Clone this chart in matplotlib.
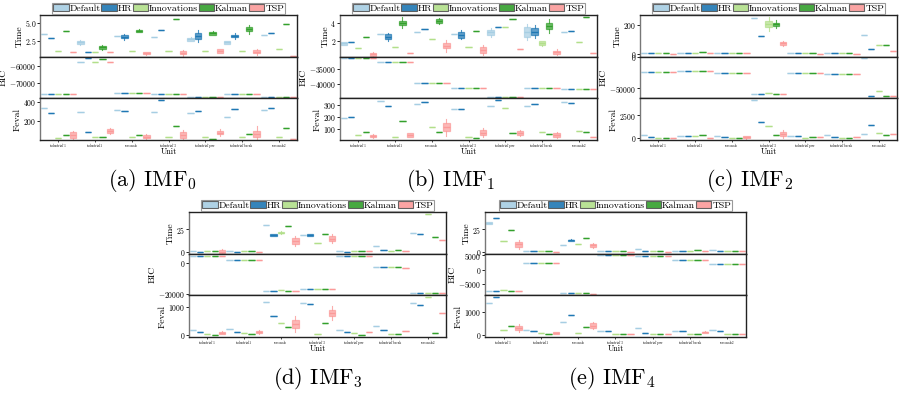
import matplotlib
matplotlib.use("Agg")
import matplotlib.pyplot as plt
from matplotlib.patches import Patch

plt.rcParams['font.family'] = ['cmr10', 'DejaVu Serif']
plt.rcParams['mathtext.fontset'] = 'cm'
plt.rcParams['axes.unicode_minus'] = False

# ---------------- data ----------------
methods = ["Default", "HR", "Innovations", "Kalman", "TSP"]
units = ["industrial_1", "industrial1", "seasonals", "industrial_3",
         "industrial_pwr", "industrial_break", "seasonals2"]
colors = ["#a6cee3", "#1f78b4", "#b2df8a", "#33a02c", "#fb9a99"]
captions = [r"(a) IMF$_0$", r"(b) IMF$_1$", r"(c) IMF$_2$", r"(d) IMF$_3$", r"(e) IMF$_4$"]

# medians: rows = units, cols = methods
time0 = [[3.38, 2.92, 1.11, 3.84, 0.88], [2.27, 0.88, 0.97, 1.57, 0.88],
         [3.15, 3.06, 1.06, 3.89, 0.74], [3.06, 3.98, 1.11, 5.56, 0.83],
         [2.69, 3.15, 1.06, 3.52, 1.06], [2.27, 3.15, 1.11, 4.07, 0.97],
         [3.24, 3.52, 1.30, 4.77, 0.42]]
bic0 = [[-76350] * 5, [-57900, -55600, -57900, -55800, -57900],
        [-75800, -75800, -75800, -75800, -75400], [-76000] * 5,
        [-77700] * 5, [-76350] * 5, [-77700] * 5]
feval0 = [[337, 286, 36, 60, 60], [299, 94, 43, 43, 104], [316, 309, 43, 60, 43],
          [299, 413, 43, 156, 60], [286, 309, 43, 19, 87], [248, 326, 43, 70, 70],
          [320, 337, 43, 138, 19]]

time1 = [[1.70, 1.89, 1.15, 2.44, 0.48], [2.74, 2.44, 1.33, 4.00, 0.67],
         [2.93, 3.33, 2.19, 4.19, 1.44], [2.70, 2.63, 1.33, 3.07, 0.96],
         [2.93, 3.48, 3.48, 4.37, 1.04], [2.93, 3.00, 1.70, 3.63, 0.70],
         [3.00, 3.11, 1.89, 4.59, 0.59]]
bic1 = [[-31444] * 5, [-32556] * 5, [-39778] * 5, [-41444] * 5,
        [-44222] * 5, [-41444] * 5, [-41778] * 5]
feval1 = [[186, 195, 49, 71, 41], [329, 290, 30, 167, 49], [301, 318, 112, 71, 112],
          [260, 260, 30, 22, 68], [290, 337, 268, 63, 68], [290, 301, 77, 55, 49],
          [323, 315, 85, 77, 30]]

time2 = [[10, 6, 8, 8, 4], [10, 8, 12, 14, 6], [10, 6, 6, 6, 8],
         [250, 125, 207, 205, 75], [8, 8, 6, 6, 4], [8, 6, 6, 6, 4],
         [132, 36, 64, 64, 23]]
bic2 = [[-24200] * 5, [-21500] * 5, [-25800] * 5,
        [-59700, -59700, -58000, -59700, -59700], [-25800] * 5, [-27400] * 5,
        [-1600, -62400, -54300, -62400, -62400]]
feval2 = [[357, 179, 30, 30, 50], [250, 250, 250, 357, 71], [250, 179, 20, 20, 107],
          [4107, 1714, 1321, 357, 464], [250, 250, 20, 107, 107],
          [357, 179, 20, 20, 107], [429, 1429, 607, 357, 429]]

time3 = [[1.1, 0.4, 1.1, 1.1, 0.5], [1.1, 0.4, 1.1, 1.8, 0.4],
         [29.4, 18.75, 21.3, 28.7, 12.1], [18.75, 18.75, 10.3, 19.5, 14.7],
         [1.8, 0.4, 1.1, 1.8, 1.1], [6.25, 2.9, 1.1, 2.9, 1.8],
         [20.6, 19.5, 41.5, 16.5, 13.2]]
bic3 = [[4300] * 5, [1935] * 5, [-17850, -17850, -17400, -17850, -18200],
        [-16770] * 5, [4086] * 5, [-2796, -2796, -2796, -2796, -3200],
        [-19355] * 5]
feval3 = [[163, 105, 47, 12, 81], [221, 105, 70, 47, 105], [1186, 686, 430, 267, 395],
          [1151, 1093, 47, 430, 779], [186, 105, 70, 12, 105], [326, 163, 47, 47, 140],
          [1140, 1058, 1360, 81, 779]]

time4 = [[31.7, 37.3, 11.6, 23.9, 8.2], [1.0, 0.5, 0.5, 0.5, 0.2],
         [7.5, 12.7, 8.2, 14.9, 7.1], [0.75, 0.75, 0.75, 0.75, 0.2],
         [3.4, 0.75, 1.5, 1.5, 0.2], [0.75, 0.75, 0.75, 1.9, 0.75],
         [1.9, 0.75, 0.75, 0.75, 0.75]]
bic4 = [[-7412, -7412, -7176, -7412, -7412], [2353] * 5,
        [-8235, -8235, -8235, -8235, -8450], [4941] * 5, [4588] * 5,
        [3412, 3412, 3412, 3412, 3200], [2000] * 5]
feval4 = [[1412, 1691, 191, 382, 309], [191, 147, 88, 15, 74], [559, 882, 88, 324, 412],
          [147, 147, 44, 15, 44], [279, 88, 44, 15, 44], [147, 162, 44, 44, 103],
          [191, 162, 44, 15, 44]]

# box spreads: (metric, unit, method, half IQR, half whisker range)
spread0 = [("t", 1, 0, 0.23, 0.35), ("t", 1, 3, 0.2, 0.3), ("t", 2, 1, 0.16, 0.4),
           ("t", 2, 3, 0.15, 0.2), ("t", 2, 4, 0.14, 0.2), ("t", 3, 4, 0.18, 0.4),
           ("t", 4, 0, 0.18, 0.25), ("t", 4, 1, 0.38, 0.8), ("t", 4, 3, 0.2, 0.3),
           ("t", 4, 4, 0.23, 0.3), ("t", 5, 0, 0.18, 0.25), ("t", 5, 1, 0.18, 0.4),
           ("t", 5, 3, 0.28, 0.6), ("t", 5, 4, 0.23, 0.4),
           ("f", 0, 4, 28, 38), ("f", 1, 4, 19, 28), ("f", 2, 4, 15, 32),
           ("f", 3, 4, 28, 57), ("f", 4, 4, 19, 32), ("f", 5, 4, 28, 82)]
spread1 = [("t", 0, 0, 0.18, 0.2), ("t", 0, 4, 0.2, 0.3), ("t", 1, 1, 0.3, 0.45),
           ("t", 1, 3, 0.22, 0.6), ("t", 2, 3, 0.22, 0.3), ("t", 2, 4, 0.3, 0.65),
           ("t", 3, 1, 0.3, 0.5), ("t", 3, 4, 0.3, 0.6), ("t", 4, 0, 0.3, 0.5),
           ("t", 5, 0, 0.55, 0.9), ("t", 5, 1, 0.37, 0.75), ("t", 5, 2, 0.22, 0.25),
           ("t", 5, 3, 0.37, 0.75), ("t", 5, 4, 0.18, 0.33),
           ("f", 0, 4, 11, 15), ("f", 1, 4, 14, 18), ("f", 2, 4, 33, 68),
           ("f", 3, 4, 22, 35), ("f", 4, 4, 16, 25), ("f", 5, 4, 16, 25)]
spread2 = [("t", 3, 2, 18, 45), ("t", 3, 3, 11, 27), ("t", 3, 4, 11, 18),
           ("f", 2, 4, 100, 150), ("f", 3, 4, 214, 430)]
spread3 = [("t", 0, 4, 1.5, 2.5), ("t", 2, 1, 0.8, 1.0), ("t", 2, 2, 0.8, 1.2),
           ("t", 2, 4, 3.0, 5.5), ("t", 3, 1, 0.8, 1.0), ("t", 3, 4, 2.6, 4.8),
           ("f", 0, 4, 30, 50), ("f", 1, 4, 50, 80), ("f", 2, 4, 140, 290),
           ("f", 3, 4, 116, 256)]
spread4 = [("t", 0, 0, 1.1, 1.5), ("t", 0, 4, 2.6, 4.5), ("t", 2, 1, 0.7, 1.0),
           ("t", 2, 4, 1.5, 2.5), ("f", 0, 4, 88, 176), ("f", 2, 4, 103, 176),
           ("f", 1, 4, 30, 45), ("f", 5, 4, 30, 45)]

imfs = [
    dict(t=time0, b=bic0, f=feval0, s=spread0),
    dict(t=time1, b=bic1, f=feval1, s=spread1),
    dict(t=time2, b=bic2, f=feval2, s=spread2),
    dict(t=time3, b=bic3, f=feval3, s=spread3),
    dict(t=time4, b=bic4, f=feval4, s=spread4),
]

# axis limits and ticks per panel
ylims = [
    dict(t=(0.28, 6.06), b=(-78650, -54600), f=(12, 433)),
    dict(t=(0.22, 4.85), b=(-44778, -30889), f=(8, 351)),
    dict(t=(-16, 268), b=(-66000, 800), f=(-179, 4286)),
    dict(t=(-1.5, 43.4), b=(-20645, 5806), f=(-70, 1407)),
    dict(t=(-1.9, 43.6), b=(-8941, 5529), f=(-103, 1765)),
]
yticks = [
    dict(t=[2.5, 5.0], b=[-70000, -60000], f=[200, 400]),
    dict(t=[2, 4], b=[-40000, -35000], f=[100, 200, 300]),
    dict(t=[0, 200], b=[-50000, 0], f=[0, 2500]),
    dict(t=[0, 25], b=[-20000, 0], f=[0, 1000]),
    dict(t=[0, 25], b=[-5000, 0, 5000], f=[0, 1000]),
]
ytick_fmt = [dict(t="{:.1f}"), {}, {}, {}, {}]

# ---------------- layout (pixels) ----------------
W, H = 900, 393
rects = [(40, 297, 15, 140), (340, 597, 15, 140), (640, 897, 15, 140),
         (189, 446, 212, 337), (485, 746, 212, 337)]
cap_pos = [(152, 180), (451, 180), (750, 180), (318, 378), (612, 378)]

fig = plt.figure(figsize=(W / 100, H / 100), dpi=100)

offsets = [-0.4, -0.2, 0.0, 0.2, 0.4]
bw = 0.17

for k, (l, r, t, b) in enumerate(rects):
    ph = (b - t) / 3.0
    axs = []
    for p in range(3):
        top = t + p * ph
        ax = fig.add_axes([l / W, 1 - (top + ph) / H, (r - l) / W, ph / H])
        axs.append(ax)
    d = imfs[k]
    spreads = {}
    for (m, u, j, hb, hw) in d["s"]:
        spreads[(m, u, j)] = (hb, hw)
    for ax, key, lab in zip(axs, ["t", "b", "f"], ["Time", "BIC", "Feval"]):
        vals = d[key]
        for j in range(5):
            stats = []
            pos = []
            for u in range(7):
                med = vals[u][j]
                hb, hw = spreads.get((key, u, j), (0.0, 0.0))
                stats.append(dict(med=med, q1=med - hb, q3=med + hb,
                                  whislo=med - hw, whishi=med + hw, fliers=[]))
                pos.append(u + offsets[j])
            c = colors[j]
            ax.bxp(stats, positions=pos, widths=bw, patch_artist=True,
                   showfliers=False, manage_ticks=False,
                   boxprops=dict(facecolor=c, edgecolor=c, alpha=0.7, lw=0.9),
                   medianprops=dict(color=c, lw=1.0),
                   whiskerprops=dict(color=c, lw=0.8, alpha=0.8),
                   capprops=dict(color=c, lw=0, alpha=0))
        ax.set_xlim(-0.5, 6.5)
        ax.set_ylim(*ylims[k][key])
        tk = yticks[k][key]
        ax.set_yticks(tk)
        fmt = ytick_fmt[k].get(key, "{:g}")
        ax.set_yticklabels(["$" + fmt.format(v) + "$" for v in tk])
        ax.tick_params(axis="y", labelsize=5.6, length=2, width=0.6, pad=0.8)
        ax.set_ylabel(lab, fontsize=7, labelpad=0.8)
        for s in ax.spines.values():
            s.set_color("#222222")
            s.set_linewidth(1.0)
        ax.spines["left"].set_color("#777777")
        if key != "f":
            ax.set_xticks([])
        else:
            ax.set_xticks(range(7))
            ax.set_xticklabels(units, fontsize=2.3)
            ax.tick_params(axis="x", length=1.5, width=0.5, pad=1)
            ax.set_xlabel("Unit", fontsize=6, labelpad=0)
    handles = [Patch(facecolor=colors[j], edgecolor="#555555", lw=0.8, alpha=0.9)
               for j in range(5)]
    leg = axs[0].legend(handles, methods, loc="lower center", bbox_to_anchor=(0.5, 1.0),
                        ncol=5, fontsize=7, handlelength=1.6, handleheight=0.7,
                        handletextpad=0.1, columnspacing=0.05, borderpad=0.12,
                        borderaxespad=0.12, fancybox=False, framealpha=1)
    leg.get_frame().set_edgecolor("#999999")
    leg.get_frame().set_linewidth(0.8)
    cx, cy = cap_pos[k]
    fig.text(cx / W, 1 - cy / H, captions[k], ha="center", va="center", fontsize=16)

fig.savefig("out.png", dpi=100)
